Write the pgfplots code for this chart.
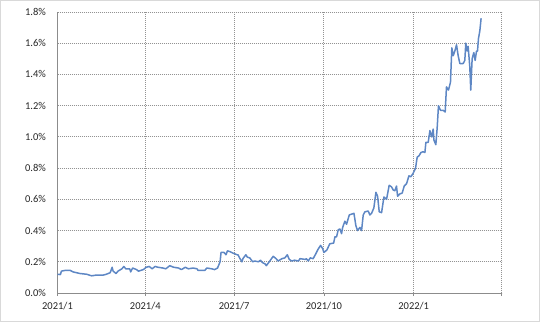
\documentclass[border=0pt]{standalone}
\usepackage{pgfplots}
\pgfplotsset{compat=1.18}
\usepackage{fontspec}
\setmainfont{Carlito}
\definecolor{lineblue}{RGB}{94,135,196}
\definecolor{framegray}{RGB}{217,217,217}
\pgfplotstableread{
x y
0 0.120
3 0.118
4 0.140
8 0.145
13 0.145
16 0.135
23 0.125
30 0.120
35 0.110
40 0.115
47 0.115
50 0.120
54 0.130
56 0.165
57 0.140
60 0.125
62 0.140
66 0.155
68 0.170
70 0.155
74 0.155
75 0.135
77 0.160
81 0.150
83 0.140
88 0.150
91 0.165
94 0.170
97 0.155
100 0.170
103 0.165
108 0.160
111 0.155
115 0.175
119 0.165
124 0.160
127 0.150
131 0.165
134 0.155
139 0.160
143 0.155
144 0.145
151 0.145
153 0.160
158 0.155
161 0.150
164 0.160
166.6 0.200
167.6 0.260
170.6 0.260
172.7 0.245
174.1 0.270
176.8 0.265
180 0.255
184 0.245
185 0.245
187 0.220
189 0.200
190 0.220
193 0.245
194.5 0.230
197 0.225
200 0.200
202 0.205
206 0.200
208 0.210
210 0.195
213 0.185
214 0.175
217 0.200
221 0.235
224 0.220
226 0.205
230 0.220
233 0.225
235.5 0.245
237.5 0.215
240 0.205
243 0.210
247 0.205
248.5 0.220
254 0.215
255 0.220
257 0.205
259 0.225
262 0.220
265 0.255
267 0.280
269.6 0.305
271.7 0.285
273 0.260
276 0.275
279 0.315
283 0.320
284.3 0.360
286 0.360
287.7 0.405
289.4 0.410
291.1 0.380
292.2 0.420
294.5 0.460
296.2 0.440
299 0.500
301.4 0.505
303.8 0.510
305.8 0.430
307.5 0.400
309.9 0.420
311.6 0.400
313.3 0.500
315 0.520
318.4 0.525
320.1 0.500
321.8 0.510
324.2 0.545
326.3 0.645
328 0.620
329.7 0.520
332.1 0.515
334.5 0.615
337.2 0.600
339.9 0.690
342.3 0.680
344 0.660
345.7 0.655
347.4 0.685
348.5 0.620
350.9 0.635
353.2 0.640
355.3 0.685
357.7 0.700
360.1 0.750
362.1 0.745
363.8 0.760
365.5 0.780
366.9 0.800
368.6 0.870
370.6 0.880
372.4 0.900
374.7 0.905
376.5 0.900
377.5 0.965
379.9 0.965
381.6 1.040
383.3 1.000
385 1.050
385.7 0.980
387.7 0.950
389.1 1.060
390.4 1.200
392.5 1.170
395.2 1.170
397.3 1.160
398.6 1.320
400.7 1.300
402.7 1.350
404.1 1.570
405.5 1.520
407.2 1.550
408.9 1.590
410.6 1.520
412.3 1.470
415.7 1.470
417.4 1.490
418.4 1.600
419.8 1.550
420.8 1.580
422.5 1.450
423.5 1.300
424.9 1.500
426.6 1.540
428 1.490
429.4 1.550
430.4 1.550
431.4 1.630
432.8 1.680
434.1 1.760
}\ratedata
\begin{document}
\begin{tikzpicture}[x=1pt,y=1pt]
\draw[framegray, line width=1pt] (0.5,0.5) rectangle (539.5,321.5);
\begin{axis}[
  at={(57.5pt,29pt)}, anchor=south west,
  scale only axis, width=444pt, height=281pt,
  xmin=0, xmax=455, ymin=0, ymax=1.8,
  xtick={0,90,181,273,365,455},
  xticklabels={2021/1,2021/4,2021/7,2021/10,2022/1,},
  ytick={0,0.2,...,1.8},
  yticklabel={\pgfmathprintnumber[fixed,fixed zerofill,precision=1]{\tick}\%},
  /pgf/number format/assume math mode=true,
  ticklabel style={font=\fontsize{10.5}{12}\selectfont, text=black!85},
  axis lines*=left,
  axis line style={-, draw=gray!90, line width=0.8pt},
  xtick pos=bottom, tick align=outside, major tick length=3pt,
  x tick style={draw=gray!90, line width=0.8pt},
  ytick style={draw=none},
  yticklabel style={xshift=-5pt},
  xticklabel style={yshift=-3pt},
  grid=major,
  major grid style={dash pattern=on 1.2pt off 0.8pt, draw=gray!85, line width=0.9pt},
  clip=false,
]
\addplot[color=lineblue, line width=1.5pt, no marks, line join=round] table[x=x,y=y] {\ratedata};
\end{axis}
\end{tikzpicture}
\end{document}
